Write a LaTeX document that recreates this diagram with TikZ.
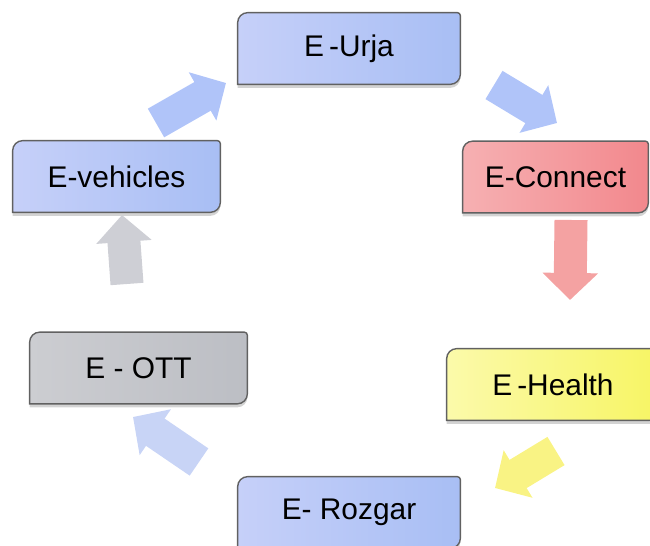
\documentclass[tikz,border=0pt]{standalone}
\usepackage{fontspec}
\setmainfont{Liberation Sans}
\usetikzlibrary{arrows.meta,shadows}

% box colours (left / right of the shading)
\definecolor{blueL}{RGB}{198,208,249}
\definecolor{blueR}{RGB}{168,190,244}
\definecolor{redL}{RGB}{246,176,178}
\definecolor{redR}{RGB}{242,136,141}
\definecolor{yelL}{RGB}{251,250,170}
\definecolor{yelR}{RGB}{247,245,100}
\definecolor{grayL}{RGB}{204,205,209}
\definecolor{grayR}{RGB}{188,190,196}

% arrow colours
\definecolor{arrBlue}{RGB}{176,196,249}
\definecolor{arrRed}{RGB}{244,162,162}
\definecolor{arrYel}{RGB}{249,243,132}
\definecolor{arrPale}{RGB}{200,212,246}
\definecolor{arrGray}{RGB}{206,207,213}

\pgfdeclarelayer{background}
\pgfsetlayers{background,main}

\tikzset{
  ebox/.style={minimum height=1.42cm, inner sep=0pt, font=\fontsize{17}{20}\selectfont},
  boxline/.style={draw=black!62, line width=0.8pt,
    drop shadow={opacity=0.35, shadow xshift=0pt, shadow yshift=-2pt}},
  blockarrow/.style={line width=0.66cm, -{Triangle[width=1.08cm, length=0.54cm]}},
}

% box outline: rounded top left and bottom right
\newcommand{\eshape}[3]{%
  \path[boxline, left color=#2, right color=#3] (#1.south west)
    -- ([yshift=-0.2cm]#1.north west) arc (180:90:0.2cm)
    -- ([xshift=-0.06cm]#1.north east) arc (90:0:0.06cm)
    -- ([yshift=0.2cm]#1.south east) arc (0:-90:0.2cm) -- cycle;}

\begin{document}
\begin{tikzpicture}[scale=1]

\useasboundingbox (0,0) rectangle (13,10.92);

% Boxes
\node[ebox, minimum width=4.44cm] (urja) at (6.98,9.95) {E\,-Urja};
\node[ebox, minimum width=3.70cm] (connect) at (11.11,7.38) {E-Connect};
\node[ebox, minimum width=4.24cm] (health) at (11.06,3.23) {E\,-Health};
\node[ebox, minimum width=4.44cm] (rozgar) at (6.98,0.67) {E- Rozgar};
\node[ebox, minimum width=4.34cm] (ott) at (2.77,3.56) {E - OTT};
\node[ebox, minimum width=4.14cm] (vehicles) at (2.33,7.39) {E-vehicles};

\begin{pgfonlayer}{background}
\eshape{urja}{blueL}{blueR}
\eshape{connect}{redL}{redR}
\eshape{health}{yelL}{yelR}
\eshape{rozgar}{blueL}{blueR}
\eshape{ott}{grayL}{grayR}
\eshape{vehicles}{blueL}{blueR}
\end{pgfonlayer}

% Arrow ends
\coordinate (a1) at (9.88,9.22);  \coordinate (b1) at (11.14,8.46);
\coordinate (a2) at (11.42,6.52); \coordinate (b2) at (11.40,4.92);
\coordinate (a3) at (11.12,1.90); \coordinate (b3) at (9.90,1.16);
\coordinate (a4) at (3.98,1.68);  \coordinate (b4) at (2.66,2.58);
\coordinate (a5) at (2.54,5.24);  \coordinate (b5) at (2.44,6.62);
\coordinate (a6) at (3.12,8.46);  \coordinate (b6) at (4.52,9.26);

% Arrows
\draw[blockarrow, color=arrBlue] (a1) -- (b1);
\draw[blockarrow, color=arrRed] (a2) -- (b2);
\draw[blockarrow, color=arrYel] (a3) -- (b3);
\draw[blockarrow, color=arrPale] (a4) -- (b4);
\draw[blockarrow, color=arrGray] (a5) -- (b5);
\draw[blockarrow, color=arrBlue] (a6) -- (b6);

\end{tikzpicture}
\end{document}
